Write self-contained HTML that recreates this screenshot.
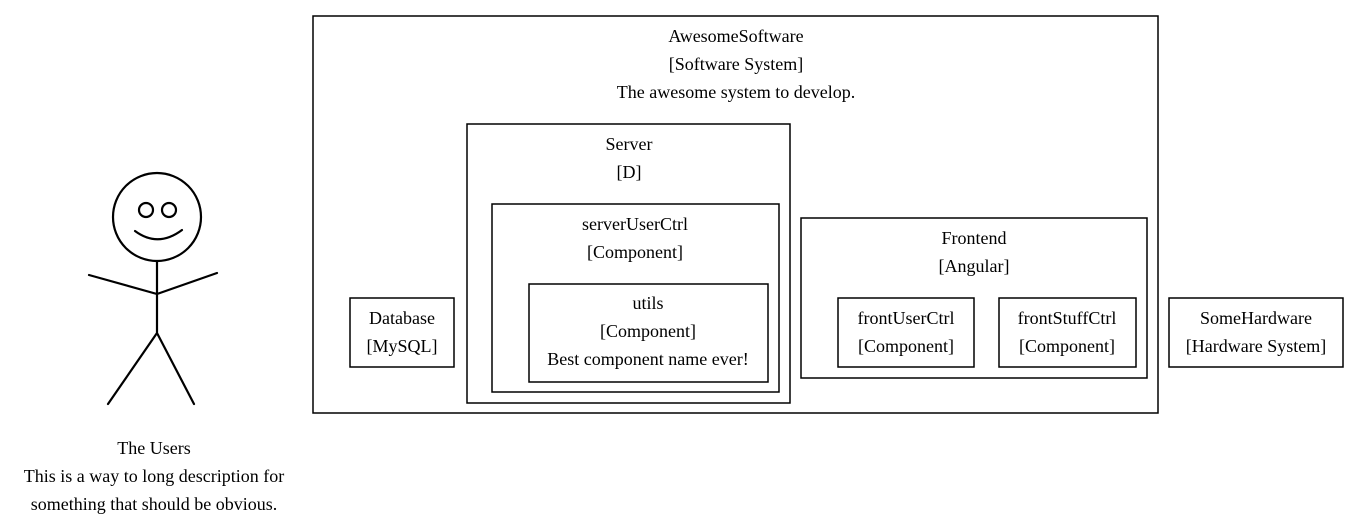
<!DOCTYPE html>
<html><head><meta charset="utf-8"><style>
html,body{margin:0;padding:0;background:#fff;}
svg{display:block;}
text{font-family:"Liberation Serif",serif;font-size:18px;fill:#000;text-anchor:middle;}
</style></head><body>
<svg width="1349" height="531" viewBox="0 0 1349 531" xmlns="http://www.w3.org/2000/svg">
<g fill="none" stroke="#000" stroke-width="2.2" stroke-linecap="round">
<circle cx="157" cy="217" r="44"/>
<circle cx="146" cy="210" r="7"/>
<circle cx="169" cy="210" r="7"/>
<path d="M135 231 Q158 248 182 230"/>
<path d="M157 261 L157 333 M89 275 L157 294 L217 273 M157 333 L108 404 M157 333 L194 404"/>
</g>
<text x="154" y="454">The Users</text>
<text x="154" y="482">This is a way to long description for</text>
<text x="154" y="510">something that should be obvious.</text>
<g fill="none" stroke="#000" stroke-width="1.5">
<rect x="313" y="16" width="845" height="397"/>
<rect x="467" y="124" width="323" height="279"/>
<rect x="492" y="204" width="287" height="188"/>
<rect x="529" y="284" width="239" height="98"/>
<rect x="350" y="298" width="104" height="69"/>
<rect x="801" y="218" width="346" height="160"/>
<rect x="838" y="298" width="136" height="69"/>
<rect x="999" y="298" width="137" height="69"/>
<rect x="1169" y="298" width="174" height="69"/>
</g>
<text x="736" y="42">AwesomeSoftware</text>
<text x="736" y="70">[Software System]</text>
<text x="736" y="98">The awesome system to develop.</text>
<text x="629" y="150">Server</text>
<text x="629" y="178">[D]</text>
<text x="635" y="230">serverUserCtrl</text>
<text x="635" y="258">[Component]</text>
<text x="648" y="309">utils</text>
<text x="648" y="337">[Component]</text>
<text x="648" y="365">Best component name ever!</text>
<text x="402" y="324">Database</text>
<text x="402" y="352">[MySQL]</text>
<text x="974" y="244">Frontend</text>
<text x="974" y="272">[Angular]</text>
<text x="906" y="324">frontUserCtrl</text>
<text x="906" y="352">[Component]</text>
<text x="1067" y="324">frontStuffCtrl</text>
<text x="1067" y="352">[Component]</text>
<text x="1256" y="324">SomeHardware</text>
<text x="1256" y="352">[Hardware System]</text>
</svg>
</body></html>
